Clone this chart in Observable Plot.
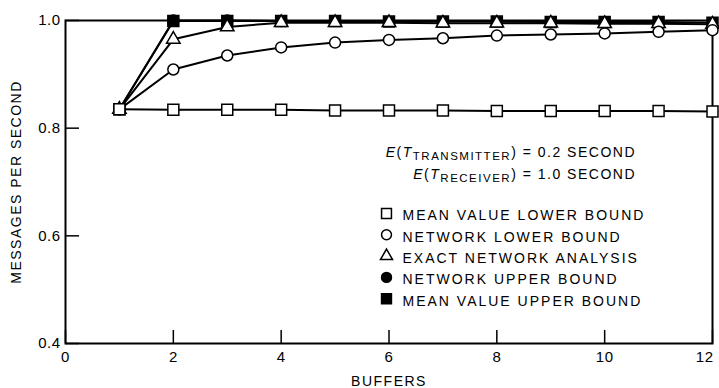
<!DOCTYPE html>
<html><head><meta charset="utf-8">
<script src="https://cdn.jsdelivr.net/npm/d3@7"></script>
<script src="https://cdn.jsdelivr.net/npm/@observablehq/plot@0.6"></script>
<style>
body{margin:0;background:#fff}
#chart svg text{letter-spacing:1.5px}
#chart svg .legend-text text{letter-spacing:2px}
#chart svg .tick-text text{letter-spacing:0.5px}
</style></head><body><div id="chart"></div>
<script>
const buffers = [1,2,3,4,5,6,7,8,9,10,11,12];
const meanValueLower = [0.835,0.834,0.834,0.834,0.833,0.833,0.833,0.832,0.832,0.832,0.832,0.831];
const networkLower   = [0.835,0.909,0.935,0.950,0.959,0.964,0.967,0.972,0.974,0.976,0.979,0.982];
const exactNetwork   = [0.835,0.965,0.988,0.996,0.996,0.996,0.995,0.995,0.995,0.994,0.994,0.993];
const networkUpper   = [0.835,1.000,1.000,0.999];
const meanValueUpper = [0.835,0.999,0.999,0.999,0.999,0.998,0.998,0.998,0.997,0.997,0.997,0.996];
const legendLabels = ["MEAN VALUE LOWER BOUND","NETWORK LOWER BOUND","EXACT NETWORK ANALYSIS","NETWORK UPPER BOUND","MEAN VALUE UPPER BOUND"];
const xTicks = [0,2,4,6,8,10,12];
const yTicks = [0.4,0.6,0.8,1.0];
const xLabel = "BUFFERS";
const yLabel = "MESSAGES PER SECOND";

const toRows = vals => vals.map((v,i)=>({x: buffers[i], y: v}));
// drawing order (back to front)
const series = [
  {label: legendLabels[4], rows: toRows(meanValueUpper), symbol:"square", fill:"black", r:6.2, legend:4},
  {label: legendLabels[3], rows: toRows(networkUpper), symbol:"circle", fill:"black", r:5.5, legend:3},
  {label: legendLabels[2], rows: toRows(exactNetwork), symbol:"triangle", fill:"white", r:5, legend:2},
  {label: legendLabels[1], rows: toRows(networkLower), symbol:"circle", fill:"white", r:5.5, legend:1},
  {label: legendLabels[0], rows: toRows(meanValueLower), symbol:"square", fill:"white", r:6.2, legend:0}
];

const lastX = xTicks[xTicks.length - 1];
const marks = [];
marks.push(Plot.frame({stroke:"black", strokeWidth:2}));
for (const s of series) marks.push(Plot.line(s.rows, {x:"x", y:"y", stroke:"black", strokeWidth:2}));
for (const s of series) marks.push(Plot.dot(s.rows, {x:"x", y:"y", symbol:s.symbol, r:s.r, fill:s.fill, stroke:"black", strokeWidth:1.5}));
marks.push(Plot.axisX({ticks:xTicks, tickSize:-13, strokeWidth:1.5, text:null, label:null}));
marks.push(Plot.axisX({ticks:xTicks.slice(0,-1), tickSize:0, tickPadding:8, tickFormat:d=>d, label:null, fontSize:15, className:"tick-text"}));
marks.push(Plot.axisX({ticks:[lastX], tickSize:0, tickPadding:8, tickFormat:d=>d, label:null, fontSize:15, textAnchor:"end", dx:1, className:"tick-text"}));
marks.push(Plot.axisY({ticks:yTicks, tickSize:-14, tickPadding:19, tickFormat:d3.format(".1f"), label:null, fontSize:15, strokeWidth:1.5, className:"tick-text"}));
marks.push(Plot.text([xLabel], {frameAnchor:"bottom", dy:42, lineAnchor:"bottom", text:d=>d, fontSize:14}));
marks.push(Plot.text([yLabel], {frameAnchor:"left", dx:-49, rotate:-90, textAnchor:"middle", text:d=>d, fontSize:14}));
for (const s of series) {
  const i = s.legend;
  marks.push(Plot.dot([s.label], {frameAnchor:"top-left", dx:321, dy:193 + i*21.3, symbol:s.symbol, r:s.r*0.9, fill:s.fill, stroke:"black", strokeWidth:1.5}));
  marks.push(Plot.text([s.label], {frameAnchor:"top-left", dx:337, dy:190 + i*21.3, textAnchor:"start", text:d=>d, fontSize:14, className:"legend-text"}));
}

const chart = Plot.plot({
  width:719, height:388,
  marginLeft:65, marginRight:7, marginTop:20, marginBottom:45,
  x:{domain:[0,12]},
  y:{domain:[0.4,1.0]},
  style:{fontFamily:"'Liberation Sans', Arial, sans-serif", fontSize:"14px", background:"white", color:"black"},
  marks
});
document.getElementById("chart").append(chart);

// annotation with italic E, T and subscripts
const svg = d3.select(chart);
function note(y, sub, val) {
  const t = svg.append("text").attr("x", 636).attr("y", y).attr("text-anchor","end")
    .attr("font-size", 14).attr("fill","black");
  t.append("tspan").attr("font-style","italic").text("E");
  t.append("tspan").text("(");
  t.append("tspan").attr("font-style","italic").text("T");
  t.append("tspan").attr("font-size",11.5).attr("dy",3).text(sub);
  t.append("tspan").attr("dy",-3).text(") = " + val + " SECOND");
}
note(157, "TRANSMITTER", "0.2");
note(179, "RECEIVER", "1.0");
</script></body></html>
